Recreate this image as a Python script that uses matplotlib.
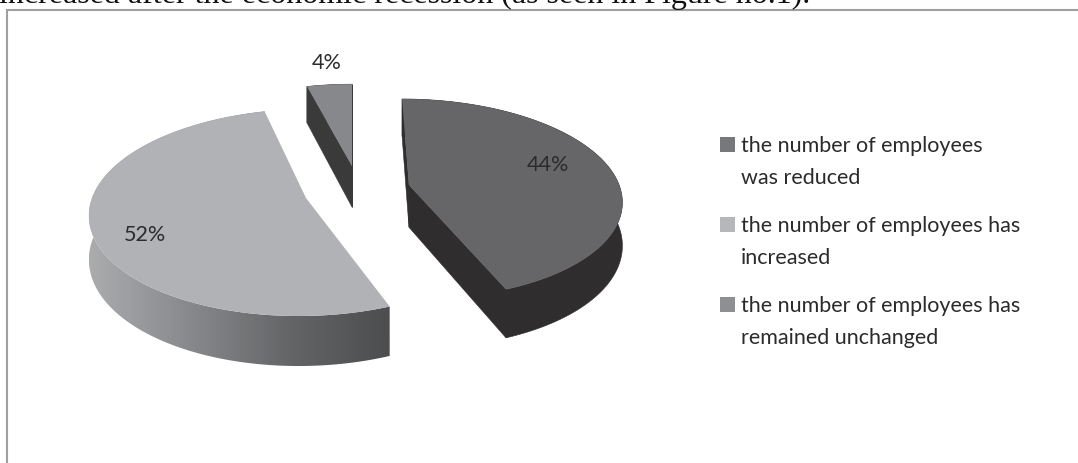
import numpy as np
import matplotlib
matplotlib.use('Agg')
import matplotlib.pyplot as plt
from matplotlib.patches import Polygon, Rectangle
from matplotlib.colors import LinearSegmentedColormap

categories = ['the number of employees\nwas reduced',
              'the number of employees has\nincreased',
              'the number of employees has\nremained unchanged']
values = [44, 52, 4]
value_labels = ['44%', '52%', '4%']
heading = 'increased after the economic recession (as seen in Figure no.1).'

top_colors = ['#666668', '#b1b2b5', '#87888c']
wall_colors = ['#2f2d2e', None, '#3a3a3b']
swatch_colors = ['#77787b', '#b6b7ba', '#8e8f92']

# ground plane for the tilted pie, everything ends up in pixels
VX, HORIZON_H, APEX_Y = 352, 725, 198
K = 0.14
RX, DEPTH = 214, 43
# exploded slice apex in plane units: (x pixels, z radii)
offsets = [(58, 0.13), (-46, 0.0), (0, 0.33)]


def project(x, z):
    s = 1 / (1 + K * z)
    return VX + x * s, APEX_Y - HORIZON_H + HORIZON_H * s, s


def slice_outline(start, end, offset):
    # angles run clockwise from the far side of the pie
    t = np.radians(np.linspace(start, end, 160))
    x = offset[0] + RX * np.sin(t)
    z = offset[1] + np.cos(t)
    return project(x, z)


fig = plt.figure(figsize=(10.78, 4.63), dpi=100)
ax = fig.add_axes([0, 0, 1, 1])
ax.set_xlim(0, 1078)
ax.set_ylim(463, 0)
ax.axis('off')

# chart frame
ax.plot([7, 7, 1078], [463, 9.5, 9.5], color='#a0a0a2', lw=1.5, solid_joinstyle='miter')

ax.text(-1, 3.5, heading, family='Liberation Serif', fontsize=23, color='#111111',
        ha='left', va='baseline', clip_on=True)

angles = np.cumsum([0] + values) * 3.6
for i, val in enumerate(values):
    offset = offsets[i]
    px, py, ps = slice_outline(angles[i], angles[i + 1], offset)
    ax_, ay_, as_ = project(offset[0], offset[1])
    rim = np.column_stack([np.r_[px, px[::-1]], np.r_[py, (py + DEPTH * ps)[::-1]]])

    if wall_colors[i] is None:
        # outer wall with the horizontal shading
        wall = Polygon(rim, closed=True, fc='none', ec='none')
        ax.add_patch(wall)
        shade = LinearSegmentedColormap.from_list('wall', ['#abacae', '#88898c', '#646567', '#4c4d4f'])
        im = ax.imshow(np.linspace(0, 1, 256)[None, :], extent=[px.min(), px.max(), 463, 0],
                       cmap=shade, aspect='auto', zorder=2)
        im.set_clip_path(wall)
        ax.set_xlim(0, 1078)
        ax.set_ylim(463, 0)
    else:
        # rim plus the two cut faces, all one colour
        ax.add_patch(Polygon(rim, closed=True, fc=wall_colors[i], ec=wall_colors[i], lw=0.4, zorder=2))
        for ex, ey, es in [(px[0], py[0], ps[0]), (px[-1], py[-1], ps[-1])]:
            quad = [(ax_, ay_), (ex, ey), (ex, ey + DEPTH * es), (ax_, ay_ + DEPTH * as_)]
            ax.add_patch(Polygon(quad, closed=True, fc=wall_colors[i], ec=wall_colors[i], lw=0.4, zorder=2))

    top = np.column_stack([np.r_[ax_, px], np.r_[ay_, py]])
    ax.add_patch(Polygon(top, closed=True, fc=top_colors[i], ec='none', zorder=3))

label_pos = [(548, 165), (145, 235), (327, 63)]
for (lx, ly), lab in zip(label_pos, value_labels):
    ax.text(lx, ly, lab, family='Lato', fontsize=15.5, color='#2b2b2b', ha='center', va='center', zorder=4)

# legend, placed by hand so each two-line entry lines up with its swatch
legend_y = [144.5, 224.5, 304.5]
for y, cat, c in zip(legend_y, categories, swatch_colors):
    ax.add_patch(Rectangle((720, y - 7.5), 15, 15, fc=c, ec='none'))
    ax.text(741, y - 8, cat, family='Lato', fontsize=15.5, color='#2b2b2b', ha='left', va='top',
            linespacing=1.73)

fig.savefig('out.png', dpi=100)
